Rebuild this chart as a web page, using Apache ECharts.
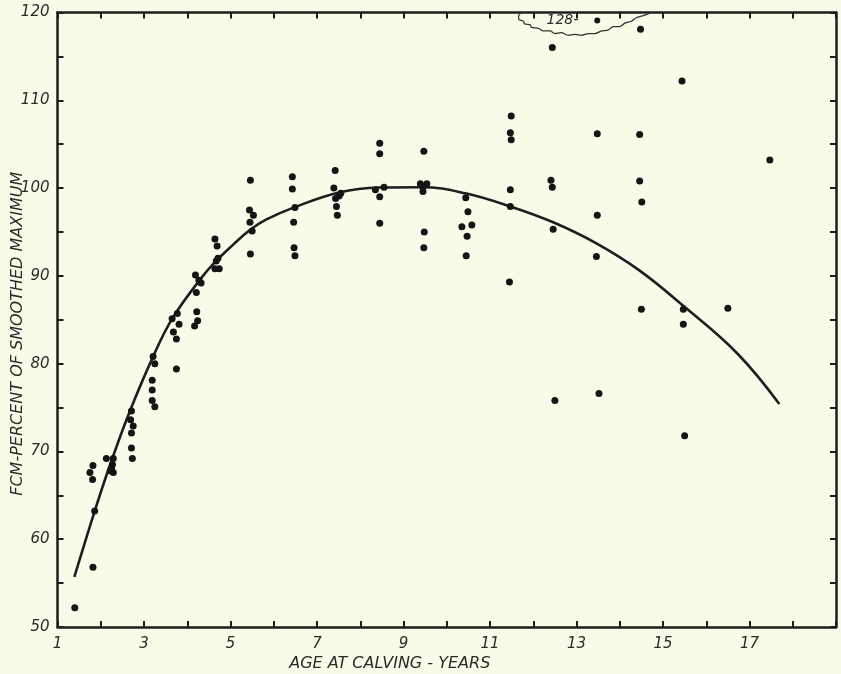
<!DOCTYPE html>
<html>
<head>
<meta charset="utf-8">
<script src="https://cdn.jsdelivr.net/npm/echarts@6/dist/echarts.min.js"></script>
<style>
html,body{margin:0;padding:0;background:#fafae8;}
#chart{width:841px;height:674px;}
</style>
</head>
<body>
<div id="chart"></div>
<script>
// Observed points: age at calving (years) and FCM percent of smoothed maximum
var ages = [1.40,1.82,1.86,1.75,1.81,1.82,2.13,2.29,2.27,2.25,2.29,2.22,
  2.71,2.69,2.75,2.71,2.71,2.73,3.21,3.25,3.19,3.19,3.19,3.25,
  3.65,3.77,3.81,3.68,3.75,3.75,4.19,4.27,4.32,4.21,4.22,4.24,4.17,
  4.64,4.69,4.71,4.67,4.64,4.74,5.46,5.44,5.53,5.45,5.50,5.46,
  6.43,6.43,6.49,6.46,6.47,6.49,7.42,7.39,7.55,7.51,7.43,7.45,7.47,
  8.45,8.45,8.35,8.55,8.45,8.45,9.47,9.39,9.54,9.45,9.45,9.48,9.47,
  10.44,10.49,10.35,10.58,10.47,10.45,11.49,11.47,11.49,11.47,11.47,11.45,
  12.44,12.41,12.44,12.46,12.50,13.48,13.48,13.46,13.52,
  14.48,14.46,14.46,14.51,14.50,15.44,15.47,15.47,15.50,16.50,17.47];
var fcm = [52.2,56.8,63.2,67.6,66.8,68.4,69.2,69.2,68.5,68.0,67.6,67.8,
  74.6,73.6,72.9,72.1,70.4,69.2,80.8,80.0,78.1,77.0,75.8,75.1,
  85.1,85.7,84.5,83.6,82.8,79.4,90.1,89.5,89.2,88.1,85.9,84.9,84.3,
  94.2,93.4,92.0,91.7,90.8,90.8,100.9,97.5,96.9,96.1,95.1,92.5,
  101.3,99.9,97.8,96.1,93.2,92.3,102.0,100.0,99.4,99.1,98.8,97.9,96.9,
  105.1,103.9,99.8,100.1,99.0,96.0,104.2,100.5,100.5,100.1,99.6,95.0,93.2,
  98.9,97.3,95.6,95.8,94.5,92.3,108.2,106.3,105.5,99.8,97.9,89.3,
  116.0,100.9,100.1,95.3,75.8,106.2,96.9,92.2,76.6,
  118.1,106.1,100.8,98.4,86.2,112.2,86.2,84.5,71.8,86.3,103.2];

// Off-scale point, drawn at the top edge with its true value noted
var noteAge = [13.48];
var noteFcm = [119.1];
var noteLabel = ['128-'];

// Outline drawn around the off-scale note
var cloudAge = [11.72,11.66,11.67,11.77,11.80,11.93,11.96,12.12,12.23,12.39,12.50,12.65,12.81,
  12.96,13.12,13.27,13.42,13.58,13.73,13.85,14.00,14.12,14.27,14.38,14.58,14.73];
var cloudFcm = [120.0,119.6,119.2,119.0,118.7,118.6,118.3,118.2,117.9,117.9,117.6,117.7,117.4,
  117.5,117.4,117.6,117.6,117.9,118.0,118.4,118.4,118.8,119.0,119.4,119.7,120.0];

// Fitted curve
var curveAge = [1.39,1.86,2.21,2.65,3.21,3.65,4.30,4.63,5.05,5.44,5.82,6.47,7.51,8.43,9.43,
  10.43,11.47,12.46,13.46,14.46,15.49,16.73,17.69];
var curveFcm = [55.7,63.2,68.4,74.3,80.8,85.1,89.6,91.5,93.5,95.2,96.4,97.8,99.5,100.06,100.1,
  99.4,97.9,96.1,93.7,90.6,86.5,81.1,75.4];

// Axis settings
var xMin = 1, xMax = 19, xStep = 1;
var yMin = 50, yMax = 120, yStep = 5;
var xTitle = 'AGE AT CALVING - YEARS';
var yTitle = 'FCM-PERCENT OF SMOOTHED MAXIMUM';

function zip(a, b) { return a.map(function (v, i) { return [v, b[i]]; }); }

var ink = '#1e1e1e';
var font = '"DejaVu Sans", sans-serif';

function axisBase(extra) {
  var base = {
    type: 'value',
    axisLine: { show: true, onZero: false, lineStyle: { color: ink, width: 2.5 } },
    axisTick: { show: true, inside: true, length: 6, lineStyle: { color: ink, width: 2 } },
    splitLine: { show: false },
    axisLabel: { show: false }
  };
  for (var k in extra) base[k] = extra[k];
  return base;
}

var chart = echarts.init(document.getElementById('chart'));
chart.setOption({
  backgroundColor: '#fafae8',
  animation: false,
  grid: { left: 57.5, right: 5, top: 12.5, bottom: 47, containLabel: false, outerBoundsMode: 'none' },
  xAxis: [
    axisBase({
      position: 'bottom', min: xMin, max: xMax, interval: xStep,
      name: xTitle, nameLocation: 'middle', nameGap: 29, nameMoveOverlap: false,
      nameTextStyle: { color: '#2a2a2a', fontSize: 16, fontStyle: 'italic', fontFamily: font, padding: [0, 114, 0, 0] },
      axisLabel: {
        show: true, margin: 10, color: '#2a2a2a', fontSize: 15, fontStyle: 'italic', fontFamily: font,
        formatter: function (v) { return (v % 2 === 1 && v < xMax) ? String(v) : ''; }
      }
    }),
    axisBase({ position: 'top', min: xMin, max: xMax, interval: xStep })
  ],
  yAxis: [
    axisBase({
      position: 'left', min: yMin, max: yMax, interval: yStep,
      name: yTitle, nameLocation: 'middle', nameGap: 32, nameMoveOverlap: false,
      nameTextStyle: { color: '#2a2a2a', fontSize: 16, fontStyle: 'italic', fontFamily: font, padding: [0, 28, 0, 0] },
      axisLabel: {
        show: true, margin: 8, color: '#2a2a2a', fontSize: 15, fontStyle: 'italic', fontFamily: font,
        formatter: function (v) { return v % 10 === 0 ? String(v) : ''; }
      }
    }),
    axisBase({ position: 'right', min: yMin, max: yMax, interval: yStep })
  ],
  series: [
    {
      type: 'line', data: zip(curveAge, curveFcm), smooth: 0.4, showSymbol: false,
      lineStyle: { color: ink, width: 2.6 }, z: 3
    },
    {
      type: 'scatter', data: zip(ages, fcm), symbolSize: 7,
      itemStyle: { color: '#151515', opacity: 1 }, z: 4
    },
    {
      type: 'line', data: zip(cloudAge, cloudFcm), smooth: 0.3, showSymbol: false,
      lineStyle: { color: '#333', width: 1.3 }, z: 3
    },
    {
      type: 'scatter', data: zip(noteAge, noteFcm), symbolSize: 6,
      itemStyle: { color: '#151515', opacity: 1 }, z: 4,
      label: {
        show: true, position: 'left', distance: 16,
        formatter: function (p) { return noteLabel[p.dataIndex]; },
        color: '#2a2a2a', fontSize: 14, fontStyle: 'italic', fontFamily: font
      }
    }
  ]
});
</script>
</body>
</html>
